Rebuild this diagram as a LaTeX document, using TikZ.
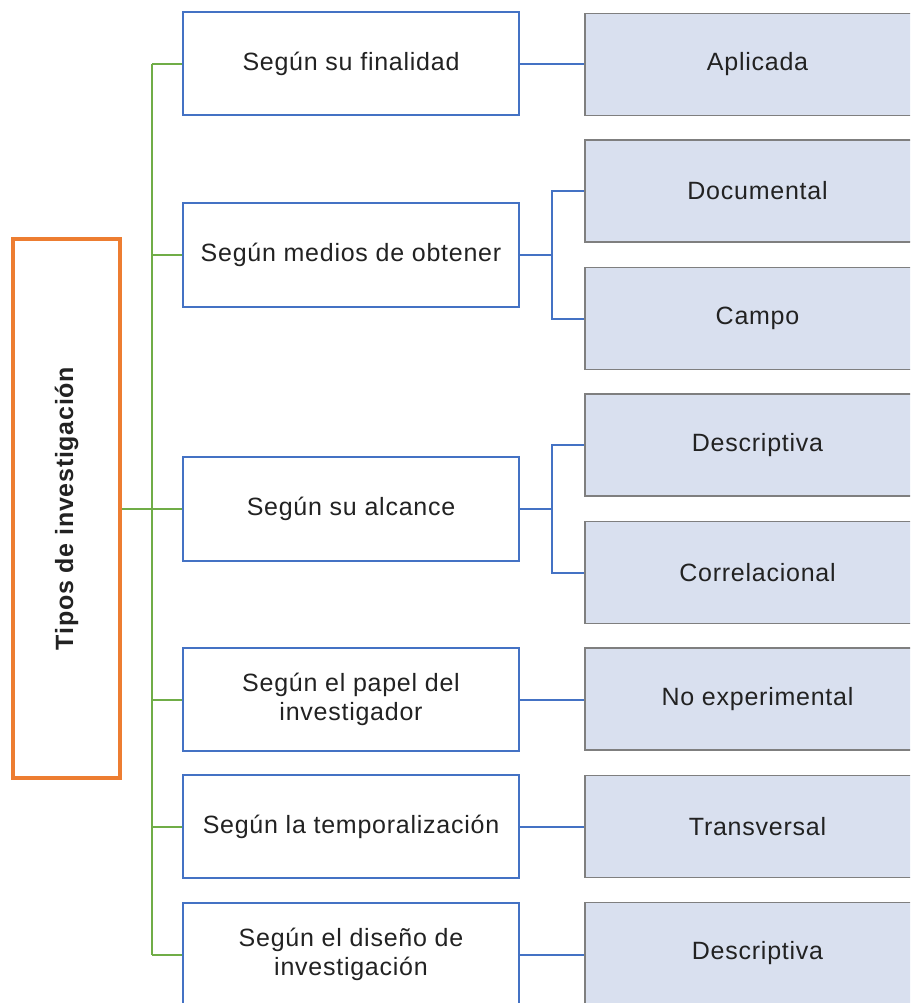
\documentclass[tikz,border=0pt]{standalone}
\usepackage{fontspec}
\setmainfont[LetterSpace=3]{Liberation Sans}
\definecolor{bordeazul}{HTML}{4472C4}
\definecolor{verde}{HTML}{70AD47}
\definecolor{naranja}{HTML}{ED7D31}
\definecolor{relleno}{HTML}{D9E0EF}
\definecolor{gris}{HTML}{7F7F7F}
\definecolor{texto}{HTML}{222222}
\newcommand{\boxfont}{\fontsize{25}{29}\selectfont}
\tikzset{
  rootbox/.style={draw=naranja,line width=4pt,minimum width=107pt,minimum height=539pt,inner sep=0pt},
  catbox/.style={draw=bordeazul,line width=2pt,fill=white,text=texto,font=\boxfont,
    minimum width=336pt,minimum height=103pt,align=center,inner sep=0pt},
  typebox/.style={draw=gris,line width=1.4pt,fill=relleno,text=texto,font=\boxfont,
    minimum width=345pt,minimum height=102pt,align=center,inner sep=0pt},
  roottitle/.style={rotate=90,text=texto,font=\boxfont\bfseries},
  greenline/.style={draw=verde,line width=2pt},
  blueline/.style={draw=bordeazul,line width=2pt}}
\begin{document}
\boxfont
\begin{tikzpicture}[x=1pt,y=-1pt]
\useasboundingbox (0,0) rectangle (910,1003);
\clip (0,0) rectangle (910,1003);

% connector rails
\coordinate (gt) at (152,0);
\coordinate (bt) at (552,0);

% root
\node[rootbox] (root) at (66.5,508.5) {};
\node[roottitle] (roottext) at (root.center) {Tipos de investigación};

% categories
\node[catbox] (a1) at (351,64) {Según su finalidad};
\node[catbox,minimum height=104pt] (a2) at (351,254.5) {Según medios de obtener};
\node[catbox,minimum height=104pt] (a3) at (351,509) {Según su alcance};
\node[catbox] (a4) at (351,699.5) {Según el papel del\\investigador};
\node[catbox] (a5) at (351,826.5) {Según la temporalización};
\node[catbox] (a6) at (351,954.5) {Según el diseño de\\investigación};

% types
\node[typebox] (b1) at (757.5,64.5) {Aplicada};
\node[typebox] (b2) at (757.5,191) {Documental};
\node[typebox] (b3) at (757.5,318.5) {Campo};
\node[typebox] (b4) at (757.5,445) {Descriptiva};
\node[typebox] (b5) at (757.5,572.5) {Correlacional};
\node[typebox] (b6) at (757.5,699) {No experimental};
\node[typebox] (b7) at (757.5,826.5) {Transversal};
\node[typebox] (b8) at (757.5,953.5) {Descriptiva};

% green tree
\draw[greenline] (gt |- a1.west) -- (gt |- a6.west);
\draw[greenline] (root.east) -- (gt |- root.east);
\foreach \n in {a1,a2,a3,a4,a5,a6}
  \draw[greenline] (gt |- \n.west) -- (\n.west);

% blue connectors
\draw[blueline] (a1.east) -- (a1.east -| b1.west);
\draw[blueline] (a2.east) -- (bt |- a2.east) |- (b2.west);
\draw[blueline] (bt |- a2.east) |- (b3.west);
\draw[blueline] (a3.east) -- (bt |- a3.east) |- (b4.west);
\draw[blueline] (bt |- a3.east) |- (b5.west);
\draw[blueline] (a4.east) -- (a4.east -| b6.west);
\draw[blueline] (a5.east) -- (a5.east -| b7.west);
\draw[blueline] (a6.east) -- (a6.east -| b8.west);
\end{tikzpicture}
\end{document}
